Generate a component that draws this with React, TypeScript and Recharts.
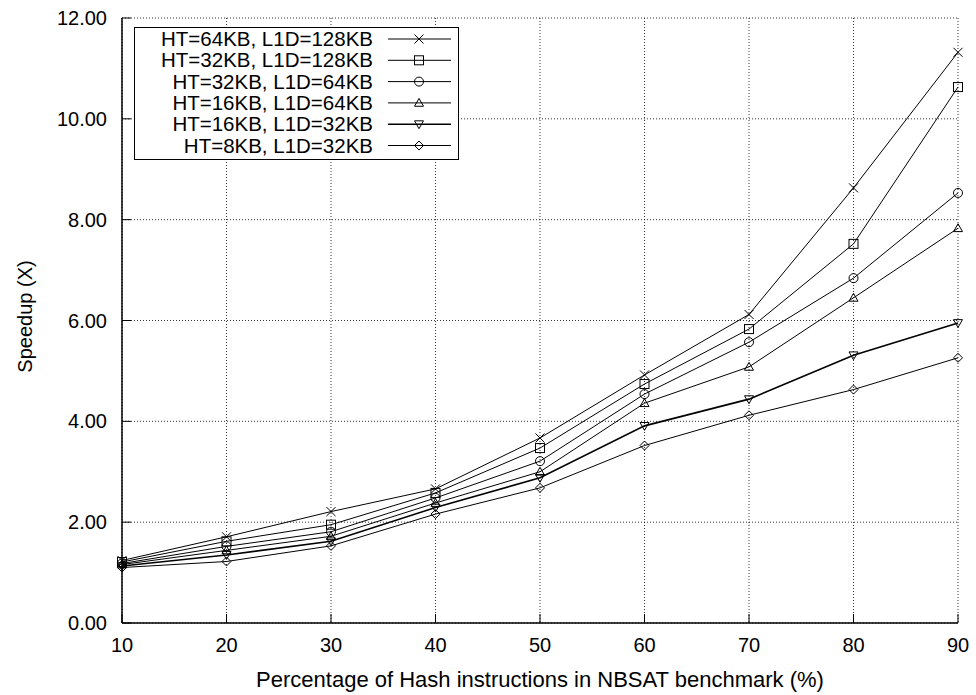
import React from 'react'
import { LineChart, Line, XAxis, YAxis, CartesianGrid, Legend } from 'recharts'

const percentages = [10, 20, 30, 40, 50, 60, 70, 80, 90]
const ht64l1d128 = [1.24, 1.71, 2.21, 2.66, 3.67, 4.92, 6.12, 8.63, 11.32]
const ht32l1d128 = [1.21, 1.62, 1.95, 2.58, 3.47, 4.74, 5.83, 7.52, 10.63]
const ht32l1d64 = [1.18, 1.52, 1.81, 2.48, 3.21, 4.54, 5.57, 6.84, 8.53]
const ht16l1d64 = [1.16, 1.44, 1.72, 2.38, 3.0, 4.36, 5.08, 6.45, 7.83]
const ht16l1d32 = [1.13, 1.35, 1.62, 2.29, 2.88, 3.91, 4.44, 5.31, 5.95]
const ht8l1d32 = [1.1, 1.22, 1.53, 2.16, 2.68, 3.52, 4.12, 4.63, 5.26]
const xTicks = [10, 20, 30, 40, 50, 60, 70, 80, 90]
const yTicks = [0, 2, 4, 6, 8, 10, 12]

type Kind = 'cross' | 'square' | 'circle' | 'up' | 'down' | 'diamond'

const series: { key: string; name: string; values: number[]; kind: Kind; width: number }[] = [
  { key: 'a', name: 'HT=64KB, L1D=128KB', values: ht64l1d128, kind: 'cross', width: 1 },
  { key: 'b', name: 'HT=32KB, L1D=128KB', values: ht32l1d128, kind: 'square', width: 1 },
  { key: 'c', name: 'HT=32KB, L1D=64KB', values: ht32l1d64, kind: 'circle', width: 1 },
  { key: 'd', name: 'HT=16KB, L1D=64KB', values: ht16l1d64, kind: 'up', width: 1 },
  { key: 'e', name: 'HT=16KB, L1D=32KB', values: ht16l1d32, kind: 'down', width: 1.6 },
  { key: 'f', name: 'HT=8KB, L1D=32KB', values: ht8l1d32, kind: 'diamond', width: 1 },
]

const data = percentages.map((x, i) => {
  const row: Record<string, number> = { x }
  series.forEach(s => { row[s.key] = s.values[i] })
  return row
})

const FONT = '"Liberation Sans", Arial, sans-serif'

function Marker({ cx, cy, kind }: { cx: number; cy: number; kind: Kind }) {
  const r = 4.5
  const common = { fill: 'none', stroke: '#000', strokeWidth: 1 }
  switch (kind) {
    case 'cross':
      return <path d={`M${cx - r},${cy - r}L${cx + r},${cy + r}M${cx - r},${cy + r}L${cx + r},${cy - r}`} {...common} />
    case 'square':
      return <rect x={cx - r} y={cy - r} width={2 * r} height={2 * r} {...common} />
    case 'circle':
      return <circle cx={cx} cy={cy} r={r} {...common} />
    case 'up':
      return <path d={`M${cx},${cy - r}L${cx + r},${cy + r * 0.75}L${cx - r},${cy + r * 0.75}Z`} {...common} />
    case 'down':
      return <path d={`M${cx},${cy + r}L${cx + r},${cy - r * 0.75}L${cx - r},${cy - r * 0.75}Z`} {...common} />
    default:
      return <path d={`M${cx},${cy - r}L${cx + r},${cy}L${cx},${cy + r}L${cx - r},${cy}Z`} {...common} />
  }
}

const TICK_LEN = 9

function LeftTick(props: any) {
  const { x, y, payload } = props
  return (
    <g>
      <line x1={x} y1={y} x2={x + TICK_LEN} y2={y} stroke="#000" strokeWidth={1} />
      <text x={x - 15} y={y} dy="0.35em" textAnchor="end" fontSize={20} fontFamily={FONT} fill="#000">
        {Number(payload.value).toFixed(2)}
      </text>
    </g>
  )
}

function RightTick(props: any) {
  const { x, y } = props
  return <line x1={x - TICK_LEN} y1={y} x2={x} y2={y} stroke="#000" strokeWidth={1} />
}

function BottomTick(props: any) {
  const { x, y, payload } = props
  return (
    <g>
      <line x1={x} y1={y} x2={x} y2={y - TICK_LEN} stroke="#000" strokeWidth={1} />
      <text x={x} y={y + 29} textAnchor="middle" fontSize={20} fontFamily={FONT} fill="#000">
        {payload.value}
      </text>
    </g>
  )
}

function TopTick(props: any) {
  const { x, y } = props
  return <line x1={x} y1={y} x2={x} y2={y + TICK_LEN} stroke="#000" strokeWidth={1} />
}

function LegendBox() {
  return (
    <div style={{ background: '#fff', border: '1px solid #000', width: 323, height: 131 }}>
      <svg width={323} height={131}>
        {series.map((s, i) => {
          const cy = 11 + i * 21.3
          return (
            <g key={s.key}>
              <text x={238} y={cy} dy="0.35em" textAnchor="end" fontSize={20.5} fontFamily={FONT} fill="#000">
                {s.name}
              </text>
              <line x1={253} y1={cy} x2={316} y2={cy} stroke="#000" strokeWidth={s.width} />
              <Marker cx={284} cy={cy} kind={s.kind} />
            </g>
          )
        })}
      </svg>
    </div>
  )
}

export default function App() {
  return (
    <div style={{ position: 'absolute', left: 0, top: 0, background: '#fff' }}>
      <LineChart width={976} height={695} data={data} margin={{ top: 18, right: 18, bottom: 0, left: 0 }}>
        <CartesianGrid stroke="#000" strokeWidth={0.8} strokeDasharray="1 2" />
        <XAxis
          dataKey="x"
          type="number"
          domain={[10, 90]}
          ticks={xTicks}
          height={72}
          tickSize={0}
          tickMargin={0}
          tickLine={false}
          axisLine={{ stroke: '#000', strokeWidth: 1.5 }}
          tick={<BottomTick />}
          label={{
            content: ({ viewBox }: any) => (
              <text x={viewBox.x + viewBox.width / 2} y={viewBox.y + 64} textAnchor="middle" fontSize={22} fontFamily={FONT} fill="#000">
                Percentage of Hash instructions in NBSAT benchmark (%)
              </text>
            ),
          }}
        />
        <XAxis
          xAxisId="top"
          orientation="top"
          dataKey="x"
          type="number"
          domain={[10, 90]}
          ticks={xTicks}
          height={0}
          tickSize={0}
          tickMargin={0}
          tickLine={false}
          axisLine={{ stroke: '#000', strokeWidth: 1.5 }}
          tick={<TopTick />}
        />
        <YAxis
          type="number"
          domain={[0, 12]}
          ticks={yTicks}
          width={122}
          tickSize={0}
          tickMargin={0}
          tickLine={false}
          axisLine={{ stroke: '#000', strokeWidth: 1.5 }}
          tick={<LeftTick />}
          label={{
            content: ({ viewBox }: any) => {
              const cx = viewBox.x + 24.5
              const cy = viewBox.y + viewBox.height / 2 - 4
              return (
                <text x={cx} y={cy} dy="0.35em" transform={`rotate(-90, ${cx}, ${cy})`} textAnchor="middle" fontSize={20} fontFamily={FONT} fill="#000">
                  Speedup (X)
                </text>
              )
            },
          }}
        />
        <YAxis
          yAxisId="right"
          orientation="right"
          type="number"
          domain={[0, 12]}
          ticks={yTicks}
          width={0}
          tickSize={0}
          tickMargin={0}
          tickLine={false}
          axisLine={{ stroke: '#000', strokeWidth: 1.5 }}
          tick={<RightTick />}
        />
        <Legend
          layout="vertical"
          align="center"
          verticalAlign="middle"
          wrapperStyle={{ left: 134, top: 27, width: 325, height: 133 }}
          content={() => <LegendBox />}
        />
        {series.map(s => (
          <Line
            key={s.key}
            dataKey={s.key}
            name={s.name}
            type="linear"
            stroke="#000"
            strokeWidth={s.width}
            isAnimationActive={false}
            dot={(p: any) => <Marker key={`${s.key}-${p.index}`} cx={p.cx} cy={p.cy} kind={s.kind} />}
            activeDot={false}
          />
        ))}
      </LineChart>
    </div>
  )
}
